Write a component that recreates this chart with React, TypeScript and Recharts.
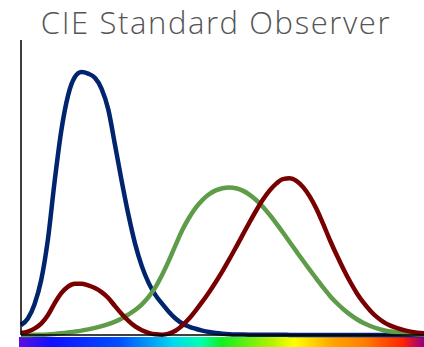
import { LineChart, Line, XAxis, YAxis } from 'recharts'

// CIE 1931 2° colour matching functions, 5 nm steps, 400–700 nm
const wavelengths = [
  400, 405, 410, 415, 420, 425, 430, 435, 440, 445, 450, 455, 460, 465, 470, 475,
  480, 485, 490, 495, 500, 505, 510, 515, 520, 525, 530, 535, 540, 545, 550, 555,
  560, 565, 570, 575, 580, 585, 590, 595, 600, 605, 610, 615, 620, 625, 630, 635,
  640, 645, 650, 655, 660, 665, 670, 675, 680, 685, 690, 695, 700,
]
const xBar = [
  0.0143, 0.0232, 0.0435, 0.0776, 0.1344, 0.2148, 0.2839, 0.3285, 0.3483, 0.3481,
  0.3362, 0.3187, 0.2908, 0.2511, 0.1954, 0.1421, 0.0956, 0.058, 0.032, 0.0147,
  0.0049, 0.0024, 0.0093, 0.0291, 0.0633, 0.1096, 0.1655, 0.2258, 0.2904, 0.3597,
  0.4334, 0.5121, 0.5945, 0.6784, 0.7621, 0.8425, 0.9163, 0.9786, 1.0263, 1.0567,
  1.0622, 1.0456, 1.0026, 0.9384, 0.8544, 0.7514, 0.6424, 0.5419, 0.4479, 0.3608,
  0.2835, 0.2187, 0.1649, 0.1212, 0.0874, 0.0636, 0.0468, 0.0329, 0.0227, 0.0158,
  0.0114,
]
const yBar = [
  0.0004, 0.0006, 0.0012, 0.0022, 0.004, 0.0073, 0.0116, 0.0168, 0.023, 0.0298,
  0.038, 0.048, 0.06, 0.0739, 0.091, 0.1126, 0.139, 0.1693, 0.208, 0.2586, 0.323,
  0.4073, 0.503, 0.6082, 0.71, 0.7932, 0.862, 0.9149, 0.954, 0.9803, 0.995, 1.0,
  0.995, 0.9786, 0.952, 0.9154, 0.87, 0.8163, 0.757, 0.6949, 0.631, 0.5668, 0.503,
  0.4412, 0.381, 0.321, 0.265, 0.217, 0.175, 0.1382, 0.107, 0.0816, 0.061, 0.0446,
  0.032, 0.0232, 0.017, 0.0119, 0.0082, 0.0057, 0.0041,
]
const zBar = [
  0.0679, 0.1102, 0.2074, 0.3713, 0.6456, 1.0391, 1.3856, 1.623, 1.7471, 1.7826,
  1.7721, 1.7441, 1.6692, 1.5281, 1.2876, 1.0419, 0.813, 0.6162, 0.4652, 0.3533,
  0.272, 0.2123, 0.1582, 0.1117, 0.0783, 0.0573, 0.0422, 0.0298, 0.0203, 0.0134,
  0.0088, 0.0058, 0.0039, 0.0028, 0.0021, 0.0018, 0.0017, 0.0014, 0.0011, 0.001,
  0.0008, 0.0006, 0.0003, 0.0002, 0.0002, 0.0001, 0.0001, 0, 0, 0, 0, 0, 0, 0, 0,
  0, 0, 0, 0, 0, 0,
]

const data = wavelengths.map((nm, i) => ({ nm, x: xBar[i], y: yBar[i], z: zBar[i] }))

export default function App() {
  return (
    <div style={{ position: 'absolute', left: 0, top: 0, width: 424, height: 347, overflow: 'hidden', background: '#fff' }}>
      <div
        style={{
          position: 'absolute',
          left: 0,
          top: 1,
          width: 432,
          textAlign: 'center',
          fontFamily: '"Open Sans", sans-serif',
          fontWeight: 300,
          fontSize: 31,
          letterSpacing: 1.6,
          color: '#555',
          whiteSpace: 'nowrap',
        }}
      >
        CIE Standard Observer
      </div>
      <div
        style={{
          position: 'absolute',
          left: 19,
          top: 337,
          width: 405,
          height: 10,
          background:
            'linear-gradient(to right, #5a10e0 0%, #1010ff 8%, #0050ff 25%, #00d8f0 38%, #00ffb0 45%, #10f020 50%, #b0f000 62%, #ffff00 68%, #ffa000 78%, #ff8000 85%, #ff2000 95%, #d01040 97%, #900080 100%)',
        }}
      />
      <div style={{ position: 'absolute', left: 0, top: 0 }}>
        <LineChart width={424} height={347} data={data} margin={{ top: 40, right: 0, left: 20, bottom: 11 }}>
          <XAxis dataKey="nm" type="number" domain={[400, 700]} tick={false} height={1} axisLine={{ stroke: '#000', strokeWidth: 1.5 }} tickLine={false} />
          <YAxis domain={[0, 2]} tick={false} width={1} axisLine={{ stroke: '#000', strokeWidth: 1.5 }} tickLine={false} />
          <Line dataKey="z" type="monotone" stroke="#00246e" strokeWidth={4.5} dot={false} isAnimationActive={false} />
          <Line dataKey="y" type="monotone" stroke="#5f9c4a" strokeWidth={4.5} dot={false} isAnimationActive={false} />
          <Line dataKey="x" type="monotone" stroke="#780000" strokeWidth={4.5} dot={false} isAnimationActive={false} />
        </LineChart>
      </div>
    </div>
  )
}
